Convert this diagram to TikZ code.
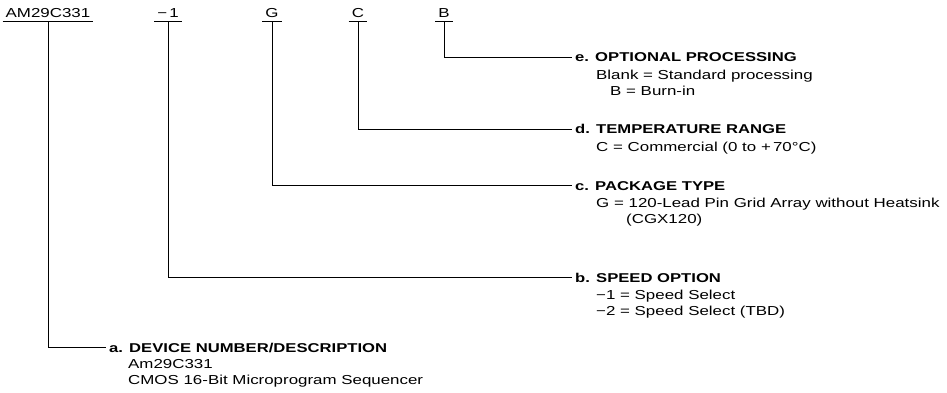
\documentclass[tikz,border=0pt]{standalone}
\usepackage{fontspec}
\setmainfont{Liberation Sans}[FakeStretch=1.3]
\usepackage{tikz}
\tikzstyle{partno}=[anchor=base, inner xsep=3pt, inner ysep=3pt, text depth=0pt, font=\fontsize{13}{15}\selectfont]
\tikzstyle{heading}=[anchor=base west, inner xsep=3pt, inner ysep=0pt, text height=9pt, text depth=0pt, font=\bfseries\fontsize{12.8}{15}\selectfont]
\tikzstyle{body}=[anchor=north west, inner sep=0pt, align=left, font=\fontsize{13}{16}\selectfont]
\tikzstyle{edge}=[line width=1pt]

\begin{document}
\begin{tikzpicture}[x=1pt,y=-1pt]
\useasboundingbox (0,0) rectangle (947,393);
% ordering code fields
\node[partno] (dev) at (48,18) {AM29C331};
\node[partno] (spd) at (168,18) {−\,1};
\node[partno] (pkg) at (272,18) {G};
\node[partno] (tmp) at (358,18) {C};
\node[partno] (opt) at (444,18) {B};
\foreach \f in {dev,spd,pkg,tmp,opt}
	\draw[edge] (\f.south west) -- (\f.south east);

% option descriptions
\node[heading] (hopt) at (572,62) {e. OPTIONAL PROCESSING};
\node[body] at (596,69.5) {Blank = Standard processing\\\hspace{14pt}B = Burn-in};

\node[heading] (htmp) at (572,134) {d. TEMPERATURE RANGE};
\node[body] at (596,141.5) {C = Commercial (0 to +\,70°C)};

\node[heading] (hpkg) at (572,190) {c. PACKAGE TYPE};
\node[body] at (596,197.5) {G = 120-Lead Pin Grid Array without Heatsink\\\hspace{30pt}(CGX120)};

\node[heading] (hspd) at (572,282) {b. SPEED OPTION};
\node[body] at (596,289.5) {−1 = Speed Select\\−2 = Speed Select (TBD)};

\node[heading] (hdev) at (106,352) {a. DEVICE NUMBER/DESCRIPTION};
\node[body] at (128,359.5) {Am29C331\\CMOS 16-Bit Microprogram Sequencer};

% leaders
\draw[edge] (opt.south) |- (hopt.west);
\draw[edge] (tmp.south) |- (htmp.west);
\draw[edge] (pkg.south) |- (hpkg.west);
\draw[edge] (spd.south) |- (hspd.west);
\draw[edge] (dev.south) |- (hdev.west);
\end{tikzpicture}
\end{document}
